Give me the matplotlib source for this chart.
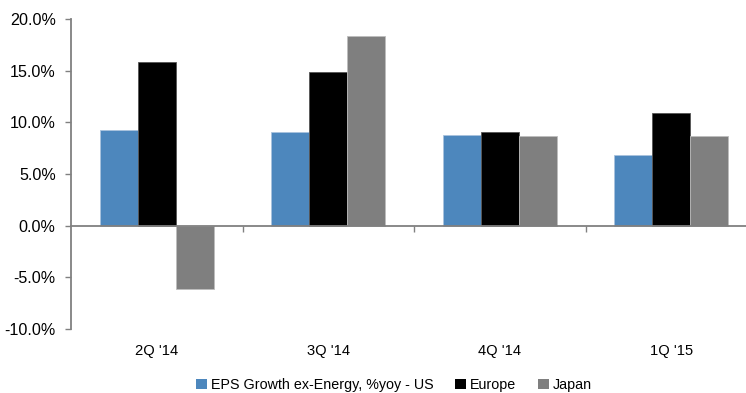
import matplotlib
matplotlib.use("Agg")
import matplotlib.pyplot as plt
from matplotlib.patches import Patch
from matplotlib.ticker import FuncFormatter, FixedLocator
import numpy as np

plt.rcParams['font.family'] = ['Liberation Sans', 'DejaVu Sans']

categories = ["2Q '14", "3Q '14", "4Q '14", "1Q '15"]
series_names = ["EPS Growth ex-Energy, %yoy - US", "Europe", "Japan"]
us = [9.3, 9.1, 8.75, 6.85]
europe = [15.8, 14.9, 9.05, 10.9]
japan = [-6.15, 18.4, 8.65, 8.65]
yticks = [-10, -5, 0, 5, 10, 15, 20]

colors = ["#4D87BD", "#000000", "#7F7F7F"]
edges = ["#A9C3DE", "#555555", "#BDBDBD"]

W, H = 746, 393
fig = plt.figure(figsize=(W / 100, H / 100), dpi=100)
ax = fig.add_axes([71 / W, (H - 329) / H, (757 - 71) / W, (329 - 19) / H])

x = np.arange(len(categories))
bw = 0.222
for i, (vals, c, ec) in enumerate(zip([us, europe, japan], colors, edges)):
    ax.bar(x + (i - 1) * bw, vals, width=bw, color=c, edgecolor=ec, linewidth=0.6,
           zorder=2)

ax.set_xlim(-0.5, len(categories) - 0.5)
ax.set_ylim(-10, 20)
ax.set_yticks(yticks)
ax.yaxis.set_major_formatter(FuncFormatter(lambda v, p: f"{v:.1f}%"))

for s in ["top", "right"]:
    ax.spines[s].set_visible(False)
ax.spines["left"].set_color("#808080")
ax.spines["left"].set_linewidth(1.3)
ax.spines["bottom"].set_position(("data", 0))
ax.spines["bottom"].set_color("#808080")
ax.spines["bottom"].set_linewidth(1.3)
ax.spines["bottom"].set_zorder(3)

ax.xaxis.set_major_locator(FixedLocator(list(x[:-1] + 0.5) + [len(categories) - 0.5]))
ax.tick_params(axis="x", which="major", direction="out", length=4, width=1,
               color="#808080", labelbottom=False)
ax.tick_params(axis="y", direction="out", length=4.5, width=1, color="#808080",
               labelsize=11.6, pad=6.5, labelcolor="#000000")

sec = ax.secondary_xaxis("bottom")
sec.set_xticks(x)
sec.set_xticklabels(categories)
sec.spines["bottom"].set_visible(False)
sec.tick_params(length=0, labelsize=10.6, pad=11)

handles = [Patch(facecolor=c, edgecolor="none") for c in colors]
fig.legend(handles, series_names, loc="center", bbox_to_anchor=(394 / W, (H - 385) / H),
           ncol=3, frameon=False, fontsize=10.3, handlelength=0.75, handleheight=0.75,
           handletextpad=0.25, columnspacing=1.55, borderpad=0)

fig.savefig("out.png", dpi=100)
